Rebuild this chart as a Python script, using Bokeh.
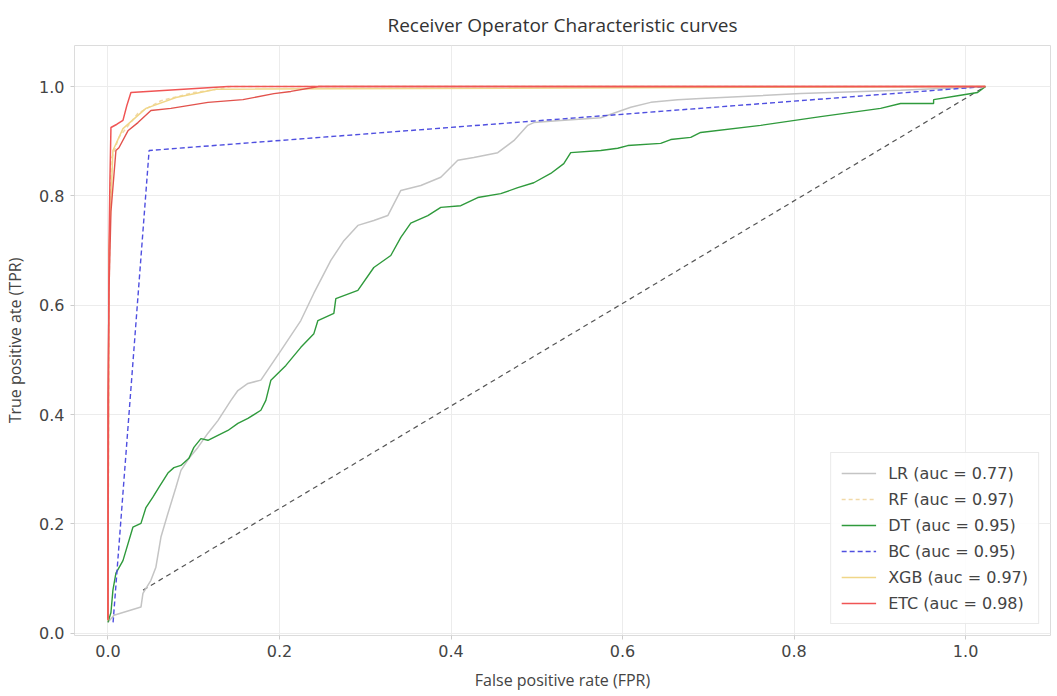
from bokeh.plotting import figure
from bokeh.models import FixedTicker, Range1d, Legend
from bokeh.embed import file_html
from bokeh.resources import INLINE

# ---------------- data ----------------
tick_values = [0.0, 0.2, 0.4, 0.6, 0.8, 1.0]
tick_labels = ["0.0", "0.2", "0.4", "0.6", "0.8", "1.0"]

chance_fpr = [0.041, 1.023]
chance_tpr = [0.079, 1.0]

lr_fpr = [0.000, 0.007, 0.0385, 0.0408, 0.0501, 0.0559, 0.0618, 0.0699, 0.0793, 0.0851,
          0.0944, 0.1049, 0.1166, 0.1282, 0.1434, 0.1515, 0.1632, 0.1783, 0.2016, 0.2249,
          0.2401, 0.2599, 0.2751, 0.2914, 0.3100, 0.3263, 0.3415, 0.3648, 0.3881, 0.4079,
          0.4266, 0.4545, 0.4732, 0.4895, 0.4965, 0.5280, 0.5746, 0.6096, 0.6329, 0.6643,
          0.6911, 0.8077, 0.9242, 1.0233]
lr_tpr = [0.020, 0.033, 0.048, 0.073, 0.097, 0.121, 0.176, 0.219, 0.267, 0.298,
          0.320, 0.340, 0.366, 0.389, 0.426, 0.444, 0.457, 0.463, 0.517, 0.572,
          0.622, 0.682, 0.718, 0.746, 0.755, 0.764, 0.810, 0.819, 0.834, 0.865,
          0.870, 0.879, 0.901, 0.929, 0.934, 0.938, 0.943, 0.962, 0.971, 0.976,
          0.978, 0.987, 0.993, 1.000]

rf_fpr = [0.0, 0.0012, 0.0035, 0.0128, 0.035, 0.0618, 0.1002, 0.12, 0.1434, 1.023]
rf_tpr = [0.024, 0.609, 0.865, 0.907, 0.951, 0.974, 0.989, 0.993, 1.0, 1.0]

dt_fpr = [0.0, 0.0035, 0.0058, 0.0093, 0.0175, 0.0291, 0.0385, 0.0443, 0.0524, 0.0594,
          0.0699, 0.0769, 0.0851, 0.0944, 0.1002, 0.1084, 0.1166, 0.1282, 0.1399, 0.1515,
          0.1632, 0.1783, 0.1841, 0.1900, 0.2075, 0.2249, 0.2401, 0.2448, 0.2634, 0.2657,
          0.2914, 0.3100, 0.3298, 0.3415, 0.3531, 0.3730, 0.3881, 0.4114, 0.4312, 0.4580,
          0.4779, 0.4965, 0.5163, 0.5315, 0.5396, 0.5746, 0.5944, 0.6061, 0.6445, 0.6562,
          0.6795, 0.6911, 0.7611, 0.8310, 0.9009, 0.9242, 0.9627, 0.9627, 0.9942, 1.0140,
          1.0233]
dt_tpr = [0.020, 0.038, 0.079, 0.110, 0.133, 0.194, 0.201, 0.230, 0.249, 0.267,
          0.293, 0.303, 0.307, 0.320, 0.340, 0.356, 0.353, 0.362, 0.371, 0.384,
          0.393, 0.408, 0.426, 0.463, 0.490, 0.523, 0.548, 0.572, 0.585, 0.612,
          0.627, 0.669, 0.691, 0.724, 0.750, 0.764, 0.779, 0.782, 0.797, 0.804,
          0.815, 0.824, 0.841, 0.859, 0.879, 0.883, 0.887, 0.892, 0.896, 0.903,
          0.907, 0.916, 0.929, 0.945, 0.960, 0.969, 0.969, 0.976, 0.984, 0.989,
          1.000]

bc_fpr = [0.006, 0.048, 1.023]
bc_tpr = [0.020, 0.883, 1.0]

xgb_fpr = [0.0, 0.0012, 0.0058, 0.0175, 0.0443, 0.0793, 0.1259, 1.023]
xgb_tpr = [0.024, 0.70, 0.883, 0.923, 0.960, 0.980, 0.995, 1.0]

etc_fpr = [0.0, 0.0006, 0.0012, 0.0023, 0.0035, 0.0105, 0.0175, 0.022, 0.0268, 0.140, 1.023]
etc_tpr = [0.027, 0.426, 0.700, 0.828, 0.925, 0.931, 0.938, 0.965, 0.989, 1.0, 1.0]

# second red curve visible in the picture (no legend entry)
etc2_fpr = [0.0, 0.0, 0.0012, 0.0035, 0.0093, 0.0128, 0.0233, 0.035, 0.0501, 0.0734,
            0.0932, 0.1166, 0.1574, 0.1935, 0.2133, 0.246, 1.023]
etc2_tpr = [0.024, 0.426, 0.625, 0.771, 0.883, 0.888, 0.919, 0.934, 0.956, 0.960,
            0.965, 0.971, 0.976, 0.987, 0.991, 1.0, 1.0]

labels = ["LR (auc = 0.77)", "RF (auc = 0.97)", "DT (auc = 0.95)",
          "BC (auc = 0.95)", "XGB (auc = 0.97)", "ETC (auc = 0.98)"]

# ---------------- figure ----------------
p = figure(width=1053, height=695, output_backend="svg", toolbar_location=None,
           x_range=Range1d(-0.039, 1.099), y_range=Range1d(-0.004, 1.075),
           min_border_left=74, min_border_right=3, min_border_top=45, min_border_bottom=60,
           title="Receiver Operator Characteristic curves")

p.title.align = "center"
p.title.text_font = "Open Sans"
p.title.text_font_size = "19px"
p.title.text_font_style = "normal"
p.title.text_color = "#333333"
p.title.standoff = 16

p.background_fill_color = "white"
p.outline_line_color = "#dcdcdc"
p.grid.grid_line_color = "#ececec"
p.grid.grid_line_width = 1

for ax in (p.xaxis[0], p.yaxis[0]):
    ax.ticker = FixedTicker(ticks=tick_values)
    ax.major_label_overrides = {v: l for v, l in zip(tick_values, tick_labels)}
    ax.axis_line_color = None
    ax.major_tick_line_color = "#cccccc"
    ax.major_tick_out = 4
    ax.major_tick_in = 0
    ax.minor_tick_line_color = None
    ax.major_label_text_font = "DejaVu Sans"
    ax.major_label_text_font_size = "16px"
    ax.major_label_text_color = "#444444"
    ax.axis_label_text_font = "Open Sans"
    ax.axis_label_text_font_size = "16px"
    ax.axis_label_text_font_style = "normal"
    ax.axis_label_text_color = "#444444"

p.xaxis.axis_label = "False positive rate (FPR)"
p.yaxis.axis_label = "True positive ate (TPR)"
p.xaxis.major_label_standoff = 5
p.yaxis.major_label_standoff = 6
p.xaxis.axis_label_standoff = 9
p.yaxis.axis_label_standoff = 10

p.line(chance_fpr, chance_tpr, line_color="#555555", line_dash="5 4", line_width=1.2)

r_lr = p.line(lr_fpr, lr_tpr, line_color="#c4c4c4", line_width=1.5)
r_rf = p.line(rf_fpr, rf_tpr, line_color="#f1d9a8", line_dash="4 3", line_width=1.5)
r_dt = p.line(dt_fpr, dt_tpr, line_color="#2f9a3c", line_width=1.4)
r_bc = p.line(bc_fpr, bc_tpr, line_color="#4f4fe0", line_dash="5 3", line_width=1.4)
r_xgb = p.line(xgb_fpr, xgb_tpr, line_color="#f0d688", line_width=1.5)
p.line(etc2_fpr, etc2_tpr, line_color="#e2524c", line_width=1.4)
r_etc = p.line(etc_fpr, etc_tpr, line_color="#f05555", line_width=1.5)

legend = Legend(items=[(labels[0], [r_lr]), (labels[1], [r_rf]), (labels[2], [r_dt]),
                       (labels[3], [r_bc]), (labels[4], [r_xgb]), (labels[5], [r_etc])],
                location="bottom_right")
legend.margin = 11
legend.padding = 10
legend.spacing = 6
legend.glyph_width = 35
legend.glyph_height = 20
legend.label_height = 20
legend.label_standoff = 12
legend.label_text_font = "DejaVu Sans"
legend.label_text_font_size = "16px"
legend.label_text_color = "#444444"
legend.border_line_color = "#d6d6d6"
legend.background_fill_alpha = 0.9
p.add_layout(legend)

open("out.html", "w").write(file_html(p, INLINE))
